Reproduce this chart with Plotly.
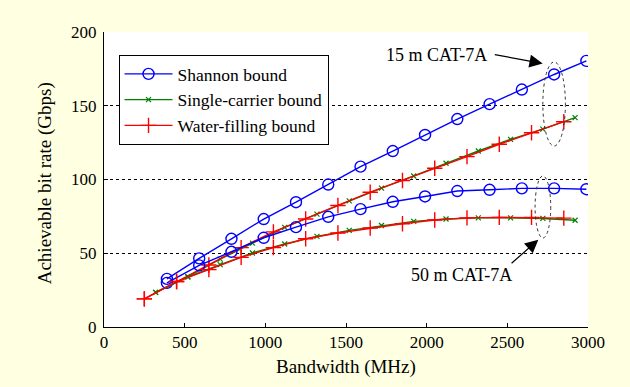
import plotly.graph_objects as go

# Bandwidth (MHz) sample points
bw_shannon = [390, 590, 790, 990, 1190, 1390, 1590, 1790, 1990, 2190, 2390, 2590, 2790, 2990]
bw_water = [250, 450, 650, 850, 1050, 1250, 1450, 1650, 1850, 2050, 2250, 2450, 2650, 2850]
bw_single = [320, 520, 720, 920, 1120, 1320, 1520, 1720, 1920, 2120, 2320, 2520, 2720, 2920]

# 15 m CAT-7A
shannon_15 = [32.6, 46.5, 59.8, 73.2, 84.6, 96.6, 108.7, 119.3, 130.2, 141.0, 151.1, 161.0, 171.2, 180.4]
water_15 = [19.1, 30.8, 42.0, 53.8, 64.5, 73.2, 82.4, 91.4, 99.3, 107.6, 115.5, 123.9, 131.7, 139.2]
single_15 = [23.5, 34.2, 46.0, 56.9, 67.5, 76.5, 85.5, 94.1, 102.4, 111.0, 119.3, 127.2, 134.2, 141.9]

# 50 m CAT-7A
shannon_50 = [29.9, 41.8, 51.0, 60.5, 67.7, 74.7, 79.9, 84.9, 88.5, 92.2, 93.0, 94.0, 94.0, 93.4]
water_50 = [19.1, 30.8, 38.9, 47.2, 53.8, 59.8, 63.7, 67.1, 70.0, 72.5, 74.0, 74.3, 74.3, 73.8]
single_50 = [23.5, 33.9, 42.3, 50.2, 56.3, 61.4, 65.5, 68.8, 71.6, 73.2, 74.0, 74.0, 73.6, 72.4]

x_ticks = [0, 500, 1000, 1500, 2000, 2500, 3000]
y_ticks = [0, 50, 100, 150, 200]

BLUE = "#0000FF"
GREEN = "#008000"
RED = "#FF0000"
FONT = "Liberation Serif"

fig = go.Figure()

def add(x, y, color, symbol, size, name, show, lw, mlw):
    fig.add_trace(go.Scatter(
        x=x, y=y, mode="lines+markers", name=name, legendgroup=name,
        showlegend=show,
        line=dict(color=color, width=lw),
        marker=dict(symbol=symbol, size=size, color=color,
                    line=dict(color=color, width=mlw)),
    ))

add(bw_shannon, shannon_15, BLUE, "circle-open", 11, "Shannon bound", True, 1.4, 1.4)
add(bw_single, single_15, GREEN, "x-thin-open", 5, "Single-carrier bound", True, 1.4, 1.2)
add(bw_water, water_15, RED, "cross-thin-open", 11, "Water-filling bound", True, 1.4, 1.4)
add(bw_shannon, shannon_50, BLUE, "circle-open", 11, "Shannon bound", False, 1.4, 1.4)
add(bw_single, single_50, GREEN, "x-thin-open", 5, "Single-carrier bound", False, 1.4, 1.2)
add(bw_water, water_50, RED, "cross-thin-open", 11, "Water-filling bound", False, 1.4, 1.4)

# dotted ellipses
fig.add_shape(type="circle", xref="x", yref="y", x0=2720, x1=2860, y0=122.7, y1=179.7,
              line=dict(color="#333333", width=1, dash="dot"))
fig.add_shape(type="circle", xref="x", yref="y", x0=2672, x1=2769, y0=60.3, y1=102.4,
              line=dict(color="#333333", width=1, dash="dot"))

# labels
fig.add_annotation(x=2062, y=184.2, text="15 m CAT-7A", showarrow=False,
                   font=dict(family=FONT, size=18, color="black"))
fig.add_annotation(x=2217, y=35.5, text="50 m CAT-7A", showarrow=False,
                   font=dict(family=FONT, size=18, color="black"))
# arrows
fig.add_annotation(x=2719, y=178.6, ax=2413, ay=184.9, axref="x", ayref="y",
                   text="", showarrow=True, arrowhead=2, arrowsize=2.2, arrowwidth=1.2,
                   arrowcolor="black")
fig.add_annotation(x=2692, y=59.2, ax=2517, ay=42.3, axref="x", ayref="y",
                   text="", showarrow=True, arrowhead=2, arrowsize=2.2, arrowwidth=1.2,
                   arrowcolor="black")

# axis titles
fig.add_annotation(xref="paper", yref="paper", x=0.5, y=-0.134, text="Bandwidth (MHz)",
                   showarrow=False, xanchor="center", yanchor="middle",
                   font=dict(family=FONT, size=19, color="black"))
fig.add_annotation(xref="paper", yref="paper", x=-0.122, y=0.487,
                   text="Achievable bit rate (Gbps)", textangle=-90,
                   showarrow=False, xanchor="center", yanchor="middle",
                   font=dict(family=FONT, size=19, color="black"))

fig.update_layout(
    width=630, height=387,
    margin=dict(l=104, r=42, t=32, b=60),
    paper_bgcolor="#FFFFE1",
    plot_bgcolor="white",
    font=dict(family=FONT, size=17, color="black"),
    legend=dict(x=0.03, y=0.922, xanchor="left", yanchor="top",
                bgcolor="white", bordercolor="black", borderwidth=1,
                font=dict(family=FONT, size=17.5), tracegroupgap=0,
                itemwidth=48),
    xaxis=dict(range=[0, 3000], tickvals=x_ticks, showgrid=False, zeroline=False,
               showline=True, linecolor="black", linewidth=1,
               ticks="inside", ticklen=4, tickcolor="black",
               tickfont=dict(family=FONT, size=17)),
    yaxis=dict(range=[0, 200], tickvals=y_ticks, showgrid=True, gridcolor="black",
               griddash="dot", gridwidth=1, zeroline=False,
               showline=True, linecolor="black", linewidth=1,
               ticks="inside", ticklen=4, tickcolor="black", ticklabelstandoff=3,
               tickfont=dict(family=FONT, size=17)),
)

fig.write_html("out.html")
